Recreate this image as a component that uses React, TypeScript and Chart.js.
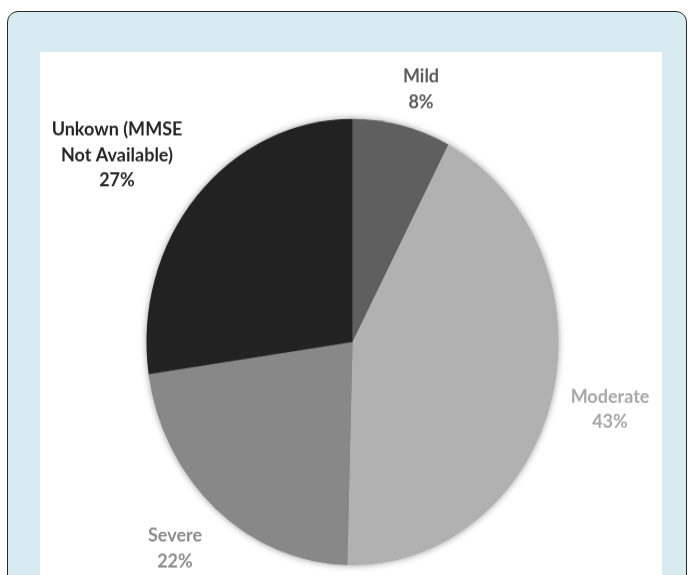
import React, { useEffect, useRef } from "react";
import { Chart, registerables } from "chart.js";

Chart.register(...registerables);

// ---- data (shares; labels show rounded %) ----
const categories = ["Mild", "Moderate", "Severe", "Unkown (MMSE Not Available)"];
const shares = [7.7, 42.7, 22.3, 27.3];
const labelNameLines = [["Mild"], ["Moderate"], ["Severe"], ["Unkown (MMSE", "Not Available)"]];

// ---- styles ----
const sliceColors = ["#5f5f5f", "#b1b1b1", "#888888", "#222222"];
const labelColors = ["#5a5a5a", "#a7a7a7", "#8c8c8c", "#262626"];
// label anchor (first line centre) in unscaled canvas coordinates
const labelAnchors = [
  [381, 25],
  [570, 345],
  [135, 484],
  [77, 78],
];
const LINE_H = 25.5;
const STRETCH = 1.083;
const CANVAS_W = 622;
const CANVAS_H = 483;

const shadowPlugin = {
  id: "pieShadow",
  beforeDatasetsDraw(chart: any) {
    const meta = chart.getDatasetMeta(0);
    if (!meta.data.length) return;
    const { x, y, outerRadius } = meta.data[0].getProps(["x", "y", "outerRadius"], true);
    const ctx = chart.ctx;
    ctx.save();
    ctx.shadowColor = "rgba(0,0,0,0.45)";
    ctx.shadowBlur = 7;
    ctx.fillStyle = "#888";
    ctx.beginPath();
    ctx.arc(x, y, outerRadius - 0.5, 0, Math.PI * 2);
    ctx.fill();
    ctx.restore();
  },
};

const labelPlugin = {
  id: "outsideLabels",
  afterDraw(chart: any) {
    const ctx = chart.ctx;
    ctx.save();
    ctx.scale(1, 1 / STRETCH);
    ctx.font = "bold 18px Lato";
    ctx.textAlign = "center";
    ctx.textBaseline = "middle";
    categories.forEach((_, i) => {
      const lines = [...labelNameLines[i], `${Math.round(shares[i])}%`];
      const [ax, ay] = labelAnchors[i];
      ctx.fillStyle = labelColors[i];
      lines.forEach((t, j) => ctx.fillText(t, ax, ay + j * LINE_H));
    });
    ctx.restore();
  },
};

export default function App() {
  const ref = useRef<HTMLCanvasElement | null>(null);

  useEffect(() => {
    if (!ref.current) return;
    const chart = new Chart(ref.current, {
      type: "pie",
      data: {
        labels: categories,
        datasets: [
          {
            data: shares,
            backgroundColor: sliceColors,
            borderWidth: 0,
            hoverOffset: 0,
            offset: 0,
          },
        ],
      },
      options: {
        responsive: false,
        animation: false,
        devicePixelRatio: 1,
        layout: { padding: { top: 61.8, bottom: 9.2, left: 106.5, right: 103.5 } },
        plugins: {
          legend: { display: false },
          tooltip: { enabled: false },
          title: { display: false },
        },
        events: [],
      },
      plugins: [shadowPlugin, labelPlugin],
    });
    return () => chart.destroy();
  }, []);

  return (
    <div
      style={{
        position: "absolute",
        left: 0,
        top: 0,
        width: 688,
        height: 575,
        overflow: "hidden",
        background: "#ffffff",
      }}
    >
      <div
        style={{
          position: "absolute",
          left: 7,
          top: 11,
          width: 680,
          height: 640,
          boxSizing: "border-box",
          border: "1.5px solid #2a2a2a",
          borderRadius: 11,
          background: "#d7ebf0",
        }}
      />
      <div
        style={{
          position: "absolute",
          left: 40,
          top: 52,
          width: 622,
          height: 600,
          background: "#ffffff",
        }}
      />
      <div
        style={{
          position: "absolute",
          left: 40,
          top: 52,
          width: CANVAS_W,
          height: CANVAS_H,
          transform: `scaleY(${STRETCH})`,
          transformOrigin: "top left",
        }}
      >
        <canvas ref={ref} width={CANVAS_W} height={CANVAS_H} />
      </div>
    </div>
  );
}
